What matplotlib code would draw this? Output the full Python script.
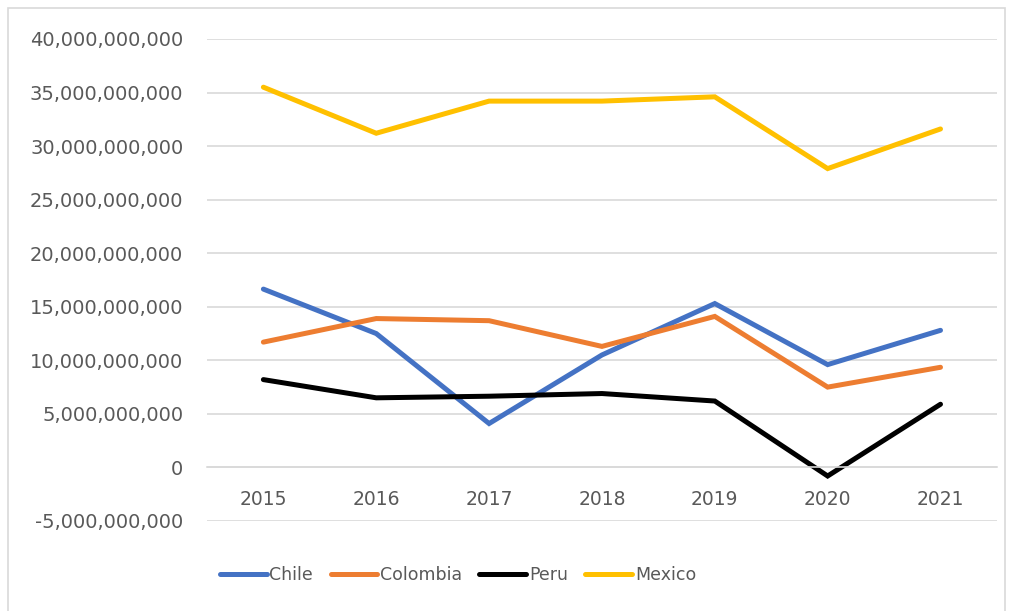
import matplotlib
matplotlib.use('agg')
from matplotlib import pyplot as plt
from matplotlib.ticker import FuncFormatter, MultipleLocator
from matplotlib.patches import Rectangle

years = ['2015', '2016', '2017', '2018', '2019', '2020', '2021']
chile = [16.65e9, 12.5e9, 4.1e9, 10.5e9, 15.3e9, 9.6e9, 12.8e9]
colombia = [11.7e9, 13.9e9, 13.7e9, 11.3e9, 14.1e9, 7.5e9, 9.35e9]
peru = [8.2e9, 6.5e9, 6.65e9, 6.9e9, 6.2e9, -0.8e9, 5.9e9]
mexico = [35.5e9, 31.2e9, 34.2e9, 34.2e9, 34.6e9, 27.9e9, 31.6e9]

series = [('Chile', chile, '#4472C4'), ('Colombia', colombia, '#ED7D31'),
          ('Peru', peru, '#000000'), ('Mexico', mexico, '#FFC000')]

fig = plt.figure(figsize=(10.18, 6.11), dpi=100)
ax = fig.add_axes([0.2033, 0.1473, 0.776, 0.7889])

# chart border like excel
fig.patches.append(Rectangle((8 / 1018, -0.01), 997 / 1018, 1 - 8 / 611 + 0.01,
                             transform=fig.transFigure, fill=False,
                             edgecolor='#D9D9D9', lw=1.2))

x = list(range(len(years)))
for name, vals, col in series:
    ax.plot(x, vals, color=col, lw=3.6, label=name, solid_capstyle='round',
            solid_joinstyle='miter')

ax.set_xlim(-0.5, len(years) - 0.5)
ax.set_ylim(-5e9, 40e9)
ax.yaxis.set_major_locator(MultipleLocator(5e9))
ax.yaxis.set_major_formatter(FuncFormatter(lambda v, p: f'{int(round(v)):,}'))
ax.grid(axis='y', color='#D9D9D9', lw=1.2)
ax.set_axisbelow(True)

ax.set_xticks(x)
ax.set_xticklabels(years)
for s in ['top', 'right', 'left']:
    ax.spines[s].set_visible(False)
ax.spines['bottom'].set_position(('data', 0))
ax.spines['bottom'].set_color('#D9D9D9')
ax.spines['bottom'].set_linewidth(1.2)
ax.tick_params(axis='x', length=0, pad=16, labelsize=13.5, labelcolor='#595959')
ax.tick_params(axis='y', length=0, pad=17, labelsize=14, labelcolor='#595959')

leg = fig.legend(*ax.get_legend_handles_labels(), loc='center',
                 bbox_to_anchor=(458 / 1018, 1 - 575 / 611), ncol=4, frameon=False,
                 fontsize=12.5, handlelength=2.7, handletextpad=0.15,
                 columnspacing=1.0)
for t in leg.get_texts():
    t.set_color('#595959')

fig.savefig('out.png', dpi=100)
